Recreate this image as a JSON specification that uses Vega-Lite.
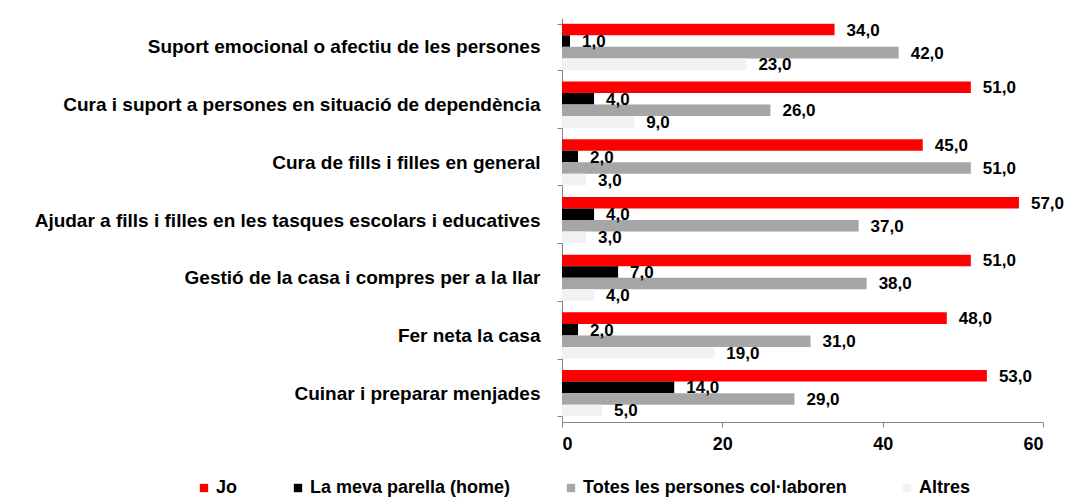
{
  "$schema": "https://vega.github.io/schema/vega-lite/v6.json",
  "width": 481,
  "height": 404,
  "autosize": {"type": "none"},
  "padding": {"left": 562, "top": 18, "right": 27, "bottom": 79},
  "background": "white",
  "config": {
    "locale": {"number": {"decimal": ",", "thousands": ".", "grouping": [3], "currency": ["", " €"]}},
    "view": {"stroke": null},
    "font": "Liberation Sans"
  },
  "data": {
    "values": [
      {"activitat": "Suport emocional o afectiu de les persones", "serie": "Jo", "valor": 34},
      {"activitat": "Suport emocional o afectiu de les persones", "serie": "La meva parella (home)", "valor": 1},
      {"activitat": "Suport emocional o afectiu de les persones", "serie": "Totes les persones col·laboren", "valor": 42},
      {"activitat": "Suport emocional o afectiu de les persones", "serie": "Altres", "valor": 23},
      {"activitat": "Cura i suport a persones en situació de dependència", "serie": "Jo", "valor": 51},
      {"activitat": "Cura i suport a persones en situació de dependència", "serie": "La meva parella (home)", "valor": 4},
      {"activitat": "Cura i suport a persones en situació de dependència", "serie": "Totes les persones col·laboren", "valor": 26},
      {"activitat": "Cura i suport a persones en situació de dependència", "serie": "Altres", "valor": 9},
      {"activitat": "Cura de fills i filles en general", "serie": "Jo", "valor": 45},
      {"activitat": "Cura de fills i filles en general", "serie": "La meva parella (home)", "valor": 2},
      {"activitat": "Cura de fills i filles en general", "serie": "Totes les persones col·laboren", "valor": 51},
      {"activitat": "Cura de fills i filles en general", "serie": "Altres", "valor": 3},
      {"activitat": "Ajudar a fills i filles en les tasques escolars i educatives", "serie": "Jo", "valor": 57},
      {"activitat": "Ajudar a fills i filles en les tasques escolars i educatives", "serie": "La meva parella (home)", "valor": 4},
      {"activitat": "Ajudar a fills i filles en les tasques escolars i educatives", "serie": "Totes les persones col·laboren", "valor": 37},
      {"activitat": "Ajudar a fills i filles en les tasques escolars i educatives", "serie": "Altres", "valor": 3},
      {"activitat": "Gestió de la casa i compres per a la llar", "serie": "Jo", "valor": 51},
      {"activitat": "Gestió de la casa i compres per a la llar", "serie": "La meva parella (home)", "valor": 7},
      {"activitat": "Gestió de la casa i compres per a la llar", "serie": "Totes les persones col·laboren", "valor": 38},
      {"activitat": "Gestió de la casa i compres per a la llar", "serie": "Altres", "valor": 4},
      {"activitat": "Fer neta la casa", "serie": "Jo", "valor": 48},
      {"activitat": "Fer neta la casa", "serie": "La meva parella (home)", "valor": 2},
      {"activitat": "Fer neta la casa", "serie": "Totes les persones col·laboren", "valor": 31},
      {"activitat": "Fer neta la casa", "serie": "Altres", "valor": 19},
      {"activitat": "Cuinar i preparar menjades", "serie": "Jo", "valor": 53},
      {"activitat": "Cuinar i preparar menjades", "serie": "La meva parella (home)", "valor": 14},
      {"activitat": "Cuinar i preparar menjades", "serie": "Totes les persones col·laboren", "valor": 29},
      {"activitat": "Cuinar i preparar menjades", "serie": "Altres", "valor": 5}
    ]
  },
  "encoding": {
    "y": {
      "field": "activitat",
      "type": "nominal",
      "sort": null,
      "scale": {"paddingInner": 0.2, "paddingOuter": 0.1},
      "axis": {
        "title": null,
        "tickBand": "extent",
        "domainColor": "#868686",
        "tickColor": "#868686",
        "tickSize": 5,
        "labelFont": "Liberation Sans",
        "labelFontSize": 19,
        "labelFontWeight": "bold",
        "labelColor": "#000000",
        "labelPadding": 17,
        "labelLimit": 600
      }
    },
    "x": {
      "field": "valor",
      "type": "quantitative",
      "scale": {"domain": [0, 60], "nice": false},
      "axis": {
        "title": null,
        "values": [0, 20, 40, 60],
        "format": "d",
        "grid": false,
        "domainColor": "#868686",
        "tickColor": "#868686",
        "tickSize": 5,
        "labelFont": "Liberation Sans",
        "labelFontSize": 18,
        "labelFontWeight": "bold",
        "labelColor": "#000000",
        "labelPadding": 8
      }
    },
    "yOffset": {
      "field": "serie",
      "type": "nominal",
      "sort": ["Jo", "La meva parella (home)", "Totes les persones col·laboren", "Altres"],
      "scale": {"paddingInner": 0}
    }
  },
  "layer": [
    {
      "mark": {"type": "bar"},
      "encoding": {
        "color": {
          "field": "serie",
          "type": "nominal",
          "sort": ["Jo", "La meva parella (home)", "Totes les persones col·laboren", "Altres"],
          "scale": {
            "domain": ["Jo", "La meva parella (home)", "Totes les persones col·laboren", "Altres"],
            "range": ["#FF0000", "#000000", "#A6A6A6", "#F2F2F2"]
          },
          "legend": {
            "title": null,
            "orient": "none",
            "direction": "horizontal",
            "columns": 4,
            "legendX": -367,
            "legendY": 461,
            "symbolType": "square",
            "symbolSize": 70,
            "symbolStrokeWidth": 0,
            "labelFont": "Liberation Sans",
            "labelFontSize": 18,
            "labelFontWeight": "bold",
            "labelColor": "#000000",
            "labelOffset": 3,
            "columnPadding": 51,
            "labelLimit": 400
          }
        }
      }
    },
    {
      "mark": {"type": "text", "align": "left", "baseline": "middle", "dx": 12, "dy": 1, "font": "Liberation Sans", "fontSize": 17, "fontWeight": "bold", "color": "#000000"},
      "encoding": {
        "text": {"field": "valor", "type": "quantitative", "format": ".1f"}
      }
    }
  ]
}
